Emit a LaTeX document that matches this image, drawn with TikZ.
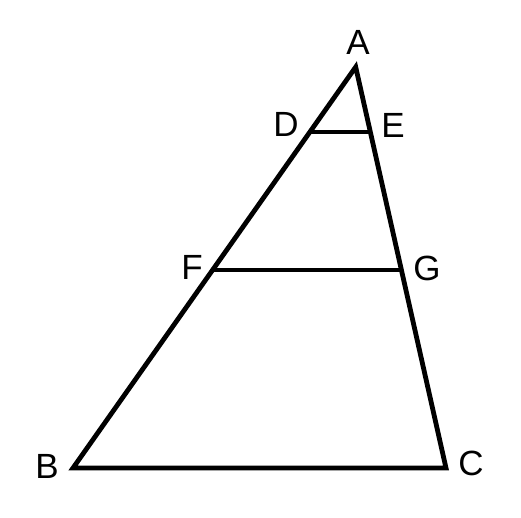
\documentclass[tikz,border=0pt]{standalone}
\usepackage{fontspec}
\setmainfont{Liberation Sans}
\usetikzlibrary{calc}
\begin{document}
\begin{tikzpicture}[x=1pt,y=-1pt,
  edge/.style={line width=4.8pt,line join=miter,black},
  lbl/.style={inner sep=0pt,anchor=center,font=\fontsize{35}{42}\selectfont}]
\useasboundingbox (0,0) rectangle (521,517);
\coordinate (A) at (355.7,67);
\coordinate (B) at (73,468);
\coordinate (C) at (446,468);
\coordinate (D) at ($(A)!0.162!(B)$);
\coordinate (E) at ($(A)!0.162!(C)$);
\coordinate (F) at ($(A)!0.506!(B)$);
\coordinate (G) at ($(A)!0.506!(C)$);
\draw[edge] (A) -- (B) -- (C) -- cycle;
\draw[edge] (D) -- (E);
\draw[edge] (F) -- (G);
\node[lbl] (lA) at (358,42) {A};
\node[lbl] (lD) at (286,124) {D};
\node[lbl] (lE) at (393,125) {E};
\node[lbl] (lF) at (192,267) {F};
\node[lbl] (lG) at (427,268) {G};
\node[lbl] (lB) at (47,466) {B};
\node[lbl] (lC) at (471,463) {C};
\end{tikzpicture}
\end{document}
